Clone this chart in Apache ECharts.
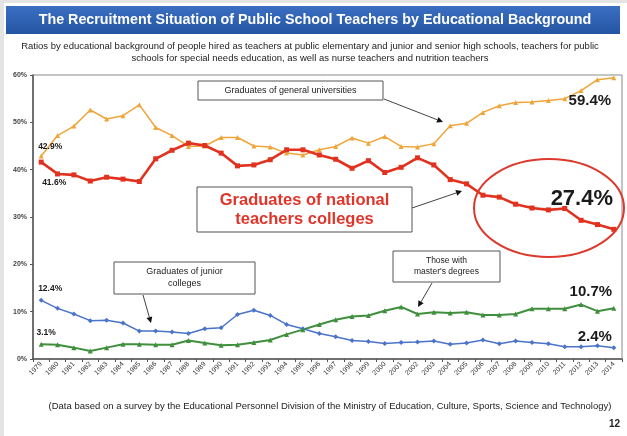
<!DOCTYPE html>
<html>
<head>
<meta charset="utf-8">
<script src="https://cdn.jsdelivr.net/npm/echarts@6/dist/echarts.min.js"></script>
<style>
  html, body { margin: 0; padding: 0; background: #e4e4e4; }
  #chart { width: 627px; height: 436px; }
</style>
</head>
<body>
<div id="chart"></div>
<script>
// Survey years
const years = [
  '1979','1980','1981','1982','1983','1984','1985','1986','1987','1988',
  '1989','1990','1991','1992','1993','1994','1995','1996','1997','1998',
  '1999','2000','2001','2002','2003','2004','2005','2006','2007','2008',
  '2009','2010','2011','2012','2013','2014'
];

// Share of new hires (%) by educational background
const generalUniv = [
  42.9, 47.2, 49.2, 52.6, 50.7, 51.4, 53.7, 48.9, 47.2, 44.9,
  45.0, 46.8, 46.8, 45.0, 44.8, 43.5, 43.1, 44.2, 44.9, 46.7,
  45.6, 47.0, 44.9, 44.8, 45.5, 49.3, 49.8, 52.1, 53.5, 54.2,
  54.3, 54.6, 55.0, 56.7, 59.0, 59.4
];
const nationalTeachersColleges = [
  41.6, 39.1, 38.9, 37.6, 38.4, 38.0, 37.5, 42.3, 44.1, 45.6,
  45.1, 43.5, 40.8, 41.0, 42.1, 44.2, 44.2, 43.1, 42.2, 40.3,
  41.9, 39.4, 40.5, 42.5, 41.0, 37.9, 37.0, 34.6, 34.2, 32.7,
  31.9, 31.5, 31.8, 29.3, 28.4, 27.4
];
const juniorColleges = [
  12.4, 10.7, 9.5, 8.1, 8.2, 7.6, 5.9, 5.9, 5.7, 5.4,
  6.4, 6.6, 9.4, 10.3, 9.2, 7.3, 6.4, 5.4, 4.7, 3.9,
  3.7, 3.3, 3.5, 3.6, 3.8, 3.1, 3.4, 4.0, 3.2, 3.8,
  3.5, 3.2, 2.6, 2.6, 2.8, 2.4
];
const mastersDegrees = [
  3.1, 3.0, 2.4, 1.7, 2.4, 3.1, 3.1, 3.0, 3.0, 3.9,
  3.4, 2.9, 3.0, 3.5, 4.0, 5.2, 6.2, 7.3, 8.3, 9.0,
  9.2, 10.2, 11.0, 9.5, 9.9, 9.7, 9.9, 9.3, 9.3, 9.5,
  10.6, 10.6, 10.6, 11.5, 10.1, 10.7
];

// Y axis tick labels
const yTicks = ['0%', '10%', '20%', '30%', '40%', '50%', '60%'];

const FONT = '"Liberation Sans", Arial, sans-serif';

// Value callouts at the first and last year of each series
function withEndLabels(values, first, last) {
  return values.map((v, i) => {
    let cfg = null;
    if (i === 0) cfg = first;
    if (i === values.length - 1) cfg = last;
    if (!cfg) return v;
    return {
      value: v,
      label: {
        show: true,
        position: 'inside',
        offset: cfg.offset,
        formatter: (p) => p.value.toFixed(1) + '%',
        fontFamily: FONT,
        fontWeight: 'bold',
        fontSize: cfg.size,
        color: '#1a1a1a'
      }
    };
  });
}

// Simple arrow: a line plus a small filled head at (x2, y2)
function arrow(x1, y1, x2, y2) {
  const a = Math.atan2(y2 - y1, x2 - x1);
  const L = 6, W = 3;
  const bx = x2 - L * Math.cos(a), by = y2 - L * Math.sin(a);
  const px = -Math.sin(a) * W, py = Math.cos(a) * W;
  return [
    { type: 'line', shape: { x1, y1, x2: bx, y2: by }, style: { stroke: '#444', lineWidth: 1 } },
    { type: 'polygon', shape: { points: [[x2, y2], [bx + px, by + py], [bx - px, by - py]] }, style: { fill: '#111' } }
  ];
}

function box(x, y, w, h, lines, opts) {
  const o = opts || {};
  const els = [{
    type: 'rect', shape: { x, y, width: w, height: h },
    style: { fill: '#fff', stroke: o.stroke || '#555', lineWidth: o.lineWidth || 1 },
    z: 10
  }];
  els.push({
    type: 'text', z: 11,
    style: {
      x: x + w / 2, y: y + h / 2,
      text: lines.join('\n'),
      font: (o.weight || 'normal') + ' ' + (o.size || 9) + 'px ' + FONT,
      fill: o.color || '#222',
      textAlign: 'center', textVerticalAlign: 'middle',
      lineHeight: o.lineHeight || 12
    }
  });
  return els;
}

const chart = echarts.init(document.getElementById('chart'), null, { renderer: 'canvas' });

const graphics = [].concat(
  [
    // slide page
    { type: 'rect', z: -10, shape: { x: 4, y: 3, width: 623, height: 433 }, style: { fill: '#ffffff' } },
    // title bar
    {
      type: 'rect', z: 1, shape: { x: 6, y: 6, width: 614, height: 28 },
      style: {
        fill: new echarts.graphic.LinearGradient(0, 0, 0, 1, [
          { offset: 0, color: '#3b6fc2' }, { offset: 1, color: '#2455a3' }
        ])
      }
    },
    {
      type: 'text', z: 2,
      style: {
        x: 315, y: 20,
        text: 'The Recruitment Situation of Public School Teachers by Educational Background',
        font: 'bold 14.3px ' + FONT, fill: '#ffffff',
        textAlign: 'center', textVerticalAlign: 'middle'
      }
    },
    {
      type: 'text', z: 2,
      style: {
        x: 310, y: 52,
        text: 'Ratios by educational background of people hired as teachers at public elementary and junior and senior high schools, teachers for public\nschools for special needs education, as well as nurse teachers and nutrition teachers',
        font: '9.5px ' + FONT, fill: '#222',
        textAlign: 'center', textVerticalAlign: 'middle', lineHeight: 12
      }
    },
    {
      type: 'text', z: 2,
      style: {
        x: 330, y: 406,
        text: '(Data based on a survey by the Educational Personnel Division of the Ministry of Education, Culture, Sports, Science and Technology)',
        font: '9.5px ' + FONT, fill: '#222',
        textAlign: 'center', textVerticalAlign: 'middle'
      }
    },
    {
      type: 'text', z: 2,
      style: {
        x: 620, y: 424, text: '12',
        font: 'bold 10px ' + FONT, fill: '#222',
        textAlign: 'right', textVerticalAlign: 'middle'
      }
    },
    // highlight ring around recent national teachers colleges figures
    {
      type: 'ellipse', z: 12,
      shape: { cx: 549, cy: 208, rx: 75, ry: 49 },
      style: { fill: 'none', stroke: '#dc3a2c', lineWidth: 2 }
    }
  ],
  box(198, 81, 185, 19, ['Graduates of general universities'], { size: 9 }),
  arrow(384, 99, 443, 122),
  box(197, 187, 215, 45, ['Graduates of national', 'teachers colleges'],
      { size: 16.5, weight: 'bold', color: '#e0352a', lineHeight: 19 }),
  arrow(412, 208, 462, 191),
  box(114, 262, 141, 32, ['Graduates of junior', 'colleges'], { size: 9 }),
  arrow(143, 295, 151, 323),
  box(393, 251, 107, 31, ['Those with', "master's degrees"], { size: 8.5, lineHeight: 11 }),
  arrow(432, 283, 418, 307)
);

const option = {
  backgroundColor: '#e4e4e4',
  animation: false,
  grid: {
    left: 33, right: 5, top: 75, bottom: 77,
    show: true, borderColor: '#8a8a8a', borderWidth: 1, backgroundColor: 'transparent'
  },
  xAxis: {
    type: 'category',
    data: years,
    boundaryGap: true,
    axisLine: { lineStyle: { color: '#555', width: 1.5 } },
    axisTick: { show: true, interval: 0, length: 3, lineStyle: { color: '#555' } },
    axisLabel: {
      interval: 0, rotate: 45, fontFamily: FONT, fontSize: 7, color: '#333', margin: 4
    }
  },
  yAxis: {
    type: 'value',
    min: 0, max: 60, interval: 10,
    splitLine: { show: false },
    axisLine: { show: true, lineStyle: { color: '#555', width: 1.5 } },
    axisTick: { show: true, length: 3, lineStyle: { color: '#555' } },
    axisLabel: {
      fontFamily: FONT, fontSize: 7, fontWeight: 'bold', color: '#444', margin: 6,
      formatter: (v) => yTicks[Math.round(v / 10)]
    }
  },
  series: [
    {
      name: 'Graduates of general universities',
      type: 'line',
      data: withEndLabels(generalUniv,
        { offset: [9, -9], size: 8.5 },
        { offset: [-24, 23], size: 15 }),
      symbol: 'triangle', symbolSize: 5,
      lineStyle: { color: '#f0a53a', width: 1.5 },
      itemStyle: { color: '#f0a53a' },
      z: 3
    },
    {
      name: 'Graduates of national teachers colleges',
      type: 'line',
      data: withEndLabels(nationalTeachersColleges,
        { offset: [13, 21], size: 8.5 },
        { offset: [-32, -30], size: 22 }),
      symbol: 'rect', symbolSize: 5,
      lineStyle: { color: '#e0321f', width: 2.6 },
      itemStyle: { color: '#e0321f' },
      z: 4
    },
    {
      name: 'Graduates of junior colleges',
      type: 'line',
      data: withEndLabels(juniorColleges,
        { offset: [9, -12], size: 8.5 },
        { offset: [-19, -11], size: 15 }),
      symbol: 'diamond', symbolSize: 5,
      lineStyle: { color: '#4a73c9', width: 1.5 },
      itemStyle: { color: '#4a73c9' },
      z: 3
    },
    {
      name: "Those with master's degrees",
      type: 'line',
      data: withEndLabels(mastersDegrees,
        { offset: [5, -12], size: 8.5 },
        { offset: [-23, -16], size: 15 }),
      symbol: 'triangle', symbolSize: 5,
      lineStyle: { color: '#3f8f3c', width: 2 },
      itemStyle: { color: '#3f8f3c' },
      z: 3
    }
  ],
  graphic: graphics
};

chart.setOption(option);
</script>
</body>
</html>
